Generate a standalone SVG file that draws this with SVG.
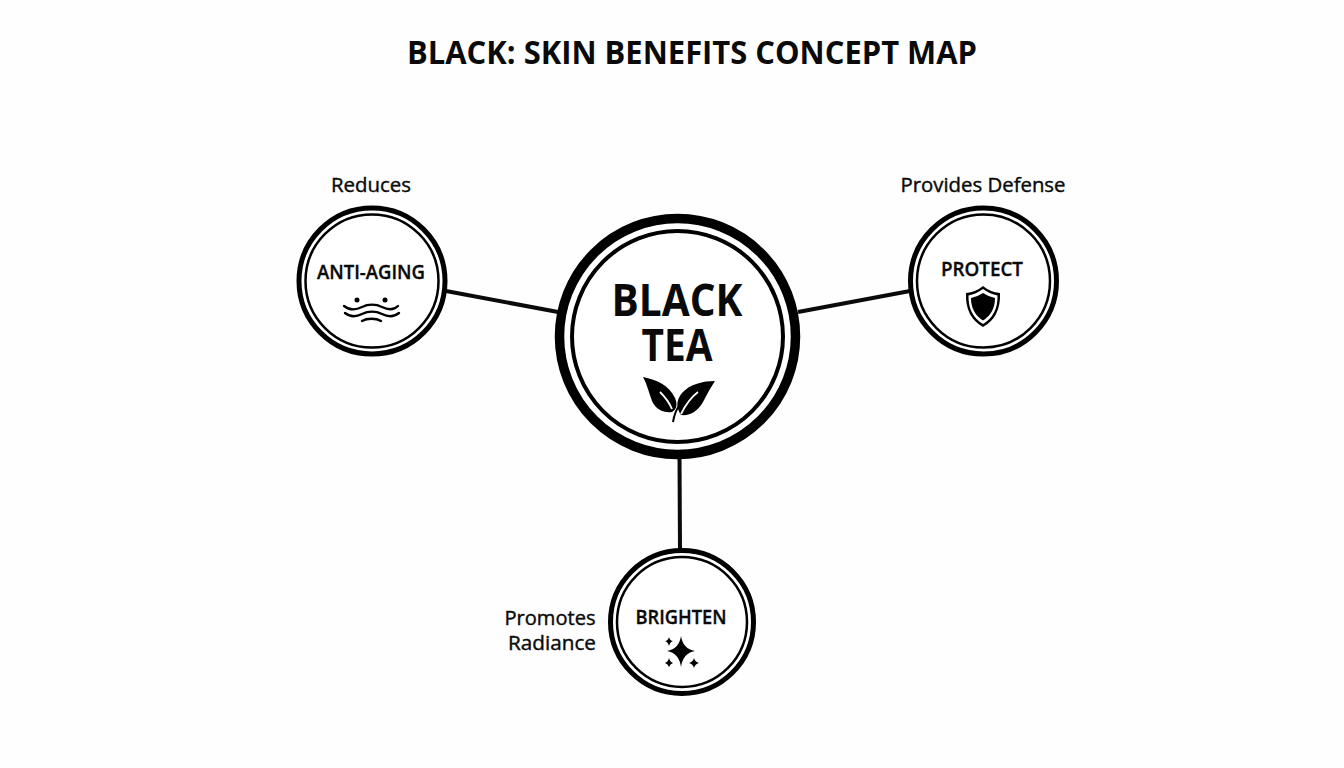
<svg xmlns="http://www.w3.org/2000/svg" width="1344" height="768" viewBox="0 0 1344 768">
<style>
text{font-family:"Open Sans","Noto Sans","Liberation Sans",sans-serif;fill:#0a0a0a;text-anchor:middle}
.o{fill:#fff;stroke:#000}
.i{fill:#fff;stroke:#000}
.t{font-weight:600;font-size:19.500px;stroke:#0a0a0a;stroke-width:.35}
.l{font-weight:500;font-size:20px;stroke:#0a0a0a;stroke-width:.4}
.w{fill:none;stroke:#000;stroke-width:2.400;stroke-linecap:round}
.c{stroke:#0a0a0a;stroke-width:4;fill:none}
</style>
<rect width="1344" height="768" fill="#fefefe"/>
<text x="692" y="64" font-size="32" font-weight="700" textLength="570" lengthAdjust="spacingAndGlyphs">BLACK: SKIN BENEFITS CONCEPT MAP</text>
<g id="connectors">
<line class="c" x1="446" y1="291" x2="558" y2="312"/>
<line class="c" x1="798" y1="312" x2="910" y2="291"/>
<line class="c" x1="679.500" y1="456" x2="680" y2="550"/>
</g>
<g id="node-black-tea">
<circle class="o" cx="677.500" cy="336.500" r="118" stroke-width="9.500"/>
<circle class="i" cx="677.500" cy="336.500" r="105.500" stroke-width="4"/>
<text font-size="45" font-weight="700"><tspan x="677" y="316" textLength="131" lengthAdjust="spacingAndGlyphs">BLACK</tspan><tspan x="677" y="361" textLength="71" lengthAdjust="spacingAndGlyphs">TEA</tspan></text>
<path d="M643 377C657 380 669 385 675 398C678 405 676 410 672 412C664 413 656 410 652 401C649 393 647 384 643 377Z" fill="#000"/>
<path d="M715 381C703 381 690 384 682 393C676 400 676 408 681 415C690 416 698 411 703 402C707 394 711 387 715 381Z" fill="#000"/>
<path d="M681 414C685 406 690 398 698 392M672 409C669 402 665 397 660 392" fill="none" stroke="#fff" stroke-width="1.800"/>
<path d="M673 422C674 415 676 410 680 404" fill="none" stroke="#000" stroke-width="2"/>
</g>
<g id="node-anti-aging">
<circle class="o" cx="372" cy="281" r="73" stroke-width="5"/>
<circle class="i" cx="372" cy="281" r="66.500" stroke-width="2.500"/>
<text x="371" y="279" class="t" textLength="108" lengthAdjust="spacingAndGlyphs">ANTI-AGING</text>
<circle cx="357" cy="300" r="2.500" fill="#000"/>
<circle cx="385" cy="300" r="2.500" fill="#000"/>
<path class="w" d="M344 306C349 310 356 310 362 307C368 304 376 304 382 307C388 310 394 310 398 306"/>
<path class="w" d="M345 313C350 317 356 317 362 314C368 311 376 311 382 314C388 317 394 317 399 313"/>
<path class="w" d="M362 321C367 318 376 318 381 321"/>
</g>
<g id="node-protect">
<circle class="o" cx="983.500" cy="281" r="73" stroke-width="5"/>
<circle class="i" cx="983.500" cy="281" r="66.500" stroke-width="2.500"/>
<text x="982" y="276" class="t" textLength="82" lengthAdjust="spacingAndGlyphs">PROTECT</text>
<path d="M983 286Q990 292 1000 293Q1001 317 983 327Q965 317 966 293Q976 292 983 286Z" fill="#000"/>
<path d="M983 289Q990 294 997.500 295.500Q998 315 983 324Q968 315 968.500 295.500Q976 294 983 289Z" fill="#fff"/>
<path d="M983 293Q989 297 995 298Q995 313 983 320.500Q971 313 971 298Q977 297 983 293Z" fill="#000"/>
</g>
<g id="node-brighten">
<circle class="o" cx="682" cy="622" r="71.500" stroke-width="5"/>
<circle class="i" cx="682" cy="622" r="65" stroke-width="2.500"/>
<text x="681" y="624" class="t" textLength="91" lengthAdjust="spacingAndGlyphs">BRIGHTEN</text>
<path d="M681 636Q683 649 695 651Q683 653 681 667Q679 653 667 651Q679 649 681 636Z" fill="#000"/>
<path d="M669 637Q670 641 673 641Q670 642 669 646Q668 642 665 641Q668 641 669 637Z" fill="#000"/>
<path d="M669 658Q670 662 673 663Q670 664 669 667Q668 664 665 663Q668 662 669 658Z" fill="#000"/>
<path d="M694 658Q695 662 699 663Q695 664 694 668Q693 664 689 663Q693 662 694 658Z" fill="#000"/>
</g>
<g id="labels">
<text x="371" y="192" class="l" textLength="80" lengthAdjust="spacingAndGlyphs">Reduces</text>
<text x="983" y="192" class="l" textLength="165" lengthAdjust="spacingAndGlyphs">Provides Defense</text>
<text class="l"><tspan x="550" y="625" textLength="91" lengthAdjust="spacingAndGlyphs">Promotes</tspan><tspan x="552" y="650" textLength="88" lengthAdjust="spacingAndGlyphs">Radiance</tspan></text>
</g>
</svg>
